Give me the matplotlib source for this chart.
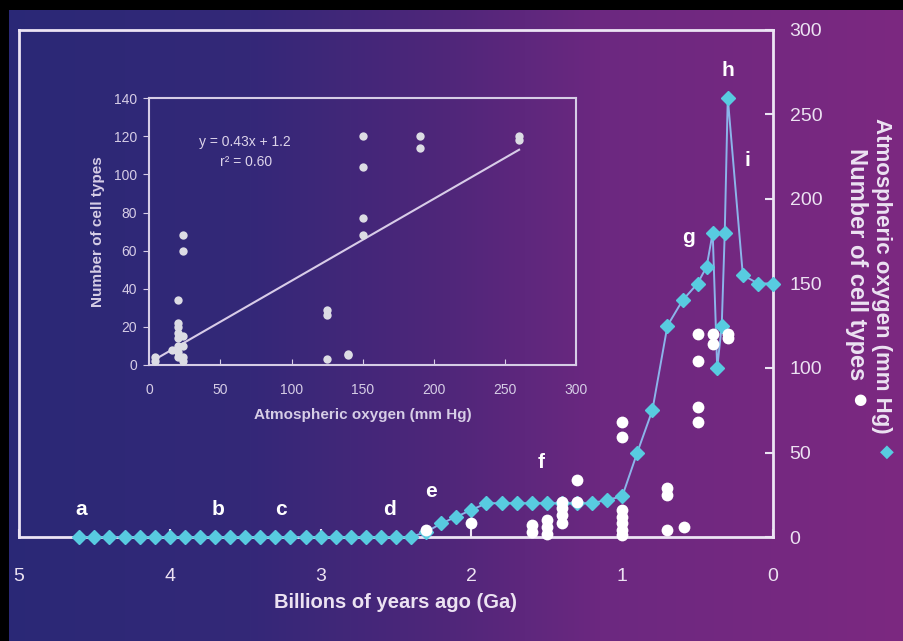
import numpy as np
import matplotlib.pyplot as plt

plt.rcParams['font.family'] = ['Liberation Sans', 'DejaVu Sans']

# Atmospheric oxygen through time (age in Ga, partial pressure in mm Hg)
o2_age = [4.6, 4.5, 4.4, 4.3, 4.2, 4.1, 4.0, 3.9, 3.8, 3.7, 3.6, 3.5, 3.4, 3.3,
          3.2, 3.1, 3.0, 2.9, 2.8, 2.7, 2.6, 2.5, 2.4, 2.3, 2.2, 2.1, 2.0, 1.9,
          1.8, 1.7, 1.6, 1.5, 1.4, 1.3, 1.2, 1.1, 1.0, 0.9, 0.8, 0.7, 0.6, 0.5,
          0.44, 0.4, 0.37, 0.34, 0.32, 0.3, 0.2, 0.1, 0.0]
o2_mmhg = [0, 0, 0, 0, 0, 0, 0, 0, 0, 0, 0, 0, 0, 0,
           0, 0, 0, 0, 0, 0, 0, 0, 0, 3, 8, 12, 16, 20,
           20, 20, 20, 20, 20, 20, 20, 22, 24, 50, 75, 125, 140, 150,
           160, 180, 100, 125, 180, 260, 155, 150, 150]

# Number of cell types of organisms through time
cell_age = [2.3, 2.0, 1.6, 1.6, 1.5, 1.5, 1.5, 1.4, 1.4, 1.4, 1.4, 1.3, 1.3,
            1.0, 1.0, 1.0, 1.0, 1.0, 1.0, 1.0, 0.7, 0.7, 0.7, 0.59,
            0.5, 0.5, 0.5, 0.5, 0.4, 0.4, 0.3, 0.3]
cell_count = [4, 8, 7, 3, 10, 6, 2, 21, 17, 13, 8, 34, 21,
              68, 59, 16, 12, 8, 4, 1, 29, 25, 4, 6,
              120, 104, 77, 68, 120, 114, 120, 118]

# Inset: cell types against oxygen level
inset_o2 = [4, 4, 16, 20, 20, 20, 20, 20, 20, 20, 20, 24, 24, 24, 24, 24, 24,
            125, 125, 125, 140, 140, 150, 150, 150, 150, 190, 190, 260, 260]
inset_count = [4, 2, 8, 34, 22, 20, 17, 14, 10, 7, 4, 68, 60, 15, 10, 4, 2,
               29, 26, 3, 6, 5, 120, 104, 77, 68, 120, 114, 120, 118]
fit_slope, fit_intercept, fit_r2 = 0.43, 1.2, 0.60

# event letters (age, height)
events = ['a', 'b', 'c', 'd', 'e', 'f', 'g', 'h', 'i']
event_age = [4.59, 3.68, 3.26, 2.54, 2.27, 1.54, 0.56, 0.30, 0.17]
event_y = [16, 16, 16, 16, 27, 44, 177, 276, 223]

W, H = 904, 641
fig = plt.figure(figsize=(W / 100, H / 100), dpi=100)

# background: horizontal blue-to-purple gradient with a dark top/left edge
xs = np.arange(W)
cx = [0, 250, 450, 600, 904]
r = np.interp(xs, cx, [42, 52, 80, 108, 124])
g = np.interp(xs, cx, [40, 40, 38, 40, 40])
b = np.interp(xs, cx, [118, 120, 122, 128, 128])
img = np.tile(np.stack([r, g, b], axis=-1)[None, :, :] / 255, (H, 1, 1))
img[:10, :, :] = 0
img[:, :9, :] = 0
fig.figimage(img, 0, 0, zorder=-10, origin='upper')

txt = '#ece2f2'
cyan = '#58cbe0'
linec = '#8cb4ea'

# main chart
ax = fig.add_axes([19 / W, 104 / H, 754 / W, 507 / H])
ax.set_facecolor('none')
ax.set_xlim(5, 0)
ax.set_ylim(0, 300)
for s in ax.spines.values():
    s.set_color('#ece4f4')
    s.set_linewidth(2)
ax.plot(o2_age, o2_mmhg, color=linec, lw=1.4, marker='D', ms=7,
        mfc=cyan, mec=cyan, clip_on=False, zorder=3)
ax.plot(cell_age, cell_count, 'o', ms=8.5, color='white', mec='none',
        clip_on=False, zorder=4)
for lab, xa, ya in zip(events, event_age, event_y):
    ax.text(xa, ya, lab, color='white', fontsize=15, fontweight='bold',
            ha='center', va='center')

ax.set_xticks([5, 4, 3, 2, 1, 0])
ax.set_xticklabels(['5', '4', '3', '2', '1', '0'])
ax.tick_params(axis='x', direction='in', length=6, width=1.5, color='#ece4f4',
               labelsize=14, labelcolor=txt, pad=22)
ax.yaxis.tick_right()
ax.set_yticks(range(0, 301, 50))
ax.tick_params(axis='y', direction='in', length=6, width=1.5, color='#ece4f4',
               labelsize=14, labelcolor=txt, pad=12)
ax.set_xlabel('Billions of years ago (Ga)', fontsize=14.5, fontweight='bold',
              color=txt, labelpad=6)

# right-hand legend-style axis title
fig.text(881.7 / W, 1 - 276 / H, 'Atmospheric oxygen (mm Hg)', rotation=270,
         ha='center', va='center', fontsize=16, fontweight='bold', color=txt)
fig.text(886.7 / W, 1 - 452 / H, '\u25c6', fontsize=13, color=cyan,
         ha='center', va='center', family='DejaVu Sans')
fig.text(857 / W, 1 - 264 / H, 'Number of cell types', rotation=270,
         ha='center', va='center', fontsize=17, fontweight='bold', color=txt)
fig.text(860 / W, 1 - 400 / H, '\u25cf', fontsize=11, color='white',
         ha='center', va='center', family='DejaVu Sans')

# inset scatter with linear fit
axin = fig.add_axes([149.3 / W, 276 / H, 426.7 / W, 266.7 / H])
axin.set_facecolor('none')
axin.set_xlim(0, 300)
axin.set_ylim(0, 140)
for s in axin.spines.values():
    s.set_color('#d6cde6')
    s.set_linewidth(1.5)
axin.plot(inset_o2, inset_count, 'o', ms=6, color='#dcdce4', mec='none',
          clip_on=False, zorder=3)
fx = np.array([3, 260])
axin.plot(fx, fit_slope * fx + fit_intercept, color='#d8cce8', lw=1.5, zorder=2)
axin.text(67, 117, f'y = {fit_slope}x + {fit_intercept}', ha='center',
          va='center', fontsize=10, color='#ddd4ea')
axin.text(68, 106.5, f'r\u00b2 = {fit_r2:.2f}', ha='center', va='center',
          fontsize=10, color='#ddd4ea')
axin.set_xticks(range(0, 301, 50))
axin.set_yticks(range(0, 141, 20))
axin.tick_params(axis='x', direction='in', length=4, color='#d6cde6',
                 labelsize=10, labelcolor='#d6cde6', pad=13)
axin.tick_params(axis='y', direction='out', length=4, color='#d6cde6',
                 labelsize=10, labelcolor='#d6cde6', pad=5)
axin.set_xlabel('Atmospheric oxygen (mm Hg)', fontsize=11, fontweight='bold',
                color='#d6cde6', labelpad=8)
axin.set_ylabel('Number of cell types', fontsize=11, fontweight='bold',
                color='#d6cde6', labelpad=6)

fig.savefig('out.png', dpi=100)
